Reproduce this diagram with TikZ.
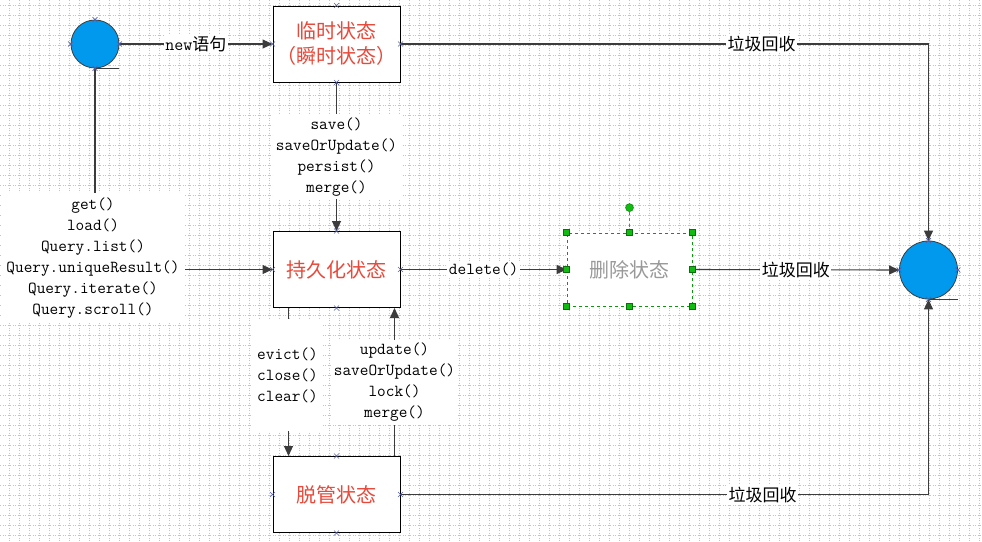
\documentclass[tikz,border=0pt]{standalone}
\usepackage{fontspec}
\newfontfamily\cjk{Noto Sans CJK SC}
\usetikzlibrary{arrows.meta,calc}
\definecolor{redtxt}{HTML}{E8493A}
\definecolor{linec}{HTML}{3C3C3C}
\definecolor{xmc}{HTML}{5560A8}
\definecolor{bluec}{HTML}{0099EE}
\definecolor{handle}{HTML}{11BB11}
\definecolor{gridc}{HTML}{C4C4C4}
\tikzset{
  statebox/.style={draw=black, fill=white, line width=1pt, minimum width=127pt, minimum height=76pt,
    text=redtxt, font=\cjk\fontsize{20}{25}\selectfont, align=center, inner sep=0pt},
  endpt/.style={circle, draw=linec, fill=bluec, line width=0.8pt, inner sep=0pt},
  arr/.style={draw=linec, line width=1.1pt, -{Triangle[length=10pt,width=9pt]}},
  lbl/.style={fill=white, inner sep=1.5pt, text=black},
  cjklbl/.style={lbl, font=\cjk\fontsize{17}{20}\selectfont},
  codelbl/.style={lbl, font=\ttfamily\fontsize{16.8}{21}\selectfont, align=center},
  hsq/.style={draw=handle!60!black, fill=handle, minimum size=6pt, inner sep=0pt, line width=0.4pt},
}
\newcommand{\xmk}[1]{\draw[xmc, line width=0.6pt] ($(#1)+(-2.5,-2.5)$) -- ($(#1)+(2.5,2.5)$) ($(#1)+(-2.5,2.5)$) -- ($(#1)+(2.5,-2.5)$);}
\begin{document}
\begin{tikzpicture}[x=1pt,y=-1pt]
\useasboundingbox (0,0) rectangle (982,541);
\fill[white] (0,0) rectangle (982,541);
% grid
\foreach \gx in {9.3,19.3,...,982} \draw[gridc, dotted, line width=0.5pt] (\gx,0) -- (\gx,541);
\foreach \gy in {5,15,...,541} \draw[gridc, dotted, line width=0.5pt] (0,\gy) -- (982,\gy);

% nodes
\node[endpt, minimum size=48pt] (c1) at (95,44) {};
\node[endpt, minimum size=58pt] (c2) at (928.5,270) {};
\node[statebox] (tmp) at (336.5,44) {临时状态\\（瞬时状态）};
\node[statebox] (per) at (336.5,269.5) {持久化状态};
\node[statebox] (det) at (336.5,494.5) {脱管状态};
\node[draw=handle!80!black, dashed, line width=0.8pt, fill=white, minimum width=125pt, minimum height=73pt,
  text=gray!80, font=\cjk\fontsize{20}{25}\selectfont, inner sep=0pt] (del) at (629.5,269.5) {删除状态};

% tangent ticks under circles
\draw[linec, line width=0.8pt] (c1.south) -- ++(24,0);
\draw[linec, line width=0.8pt] (c2.south) -- ++(29,0);

% connectors
\draw[arr] (c1.east) -- node[cjklbl, pos=0.5]{{\ttfamily\fontsize{17.5}{20}\selectfont new}语句} (tmp.west);
\draw[arr] (tmp.east) -| node[cjklbl, pos=0.342]{垃圾回收} (c2.north);
\draw[arr] (tmp.south) -- node[codelbl, pos=0.5, minimum width=128pt, minimum height=85pt]{save()\\saveOrUpdate()\\persist()\\merge()} (per.north);
\draw[arr] (c1.south) |- node[codelbl, pos=0.5, yshift=11.5pt, minimum width=183pt, minimum height=130pt, xshift=-2pt]{get()\\load()\\Query.list()\\Query.uniqueResult()\\Query.iterate()\\Query.scroll()} (per.west);
\draw[arr] (per.east) -- node[codelbl, pos=0.5]{delete()} (del.west);
\draw[arr] (del.east) -- node[cjklbl, pos=0.5]{垃圾回收} (c2.west);
\draw[arr] ([xshift=16pt]per.south west) -- node[codelbl, pos=0.453, minimum width=70pt, minimum height=112pt, xshift=-1pt]{evict()\\close()\\clear()} ([xshift=16pt]det.north west);
\draw[arr] ([xshift=-6pt]det.north east) -- node[codelbl, pos=0.5, minimum width=126pt, minimum height=85pt]{update()\\saveOrUpdate()\\lock()\\merge()} ([xshift=-6pt]per.south east);
\draw[arr] (det.east) -| node[cjklbl, pos=0.343]{垃圾回收} (c2.south);

% connection crosses
\foreach \n in {tmp,per,det,c1,c2}{
  \foreach \a in {north,south,east,west}{ \xmk{\n.\a} }
}

% selection handles of the deleted state
\coordinate (rot) at ($(del.north)+(0,-25)$);
\draw[handle, dashed, line width=0.6pt] (del.north) -- (rot);
\node[circle, draw=handle!60!black, fill=handle, minimum size=8pt, inner sep=0pt, line width=0.4pt] (rh) at (rot) {};
\foreach \a in {north west,north,north east,east,south east,south,south west,west}{
  \node[hsq] at (del.\a) {};
}
\end{tikzpicture}
\end{document}
